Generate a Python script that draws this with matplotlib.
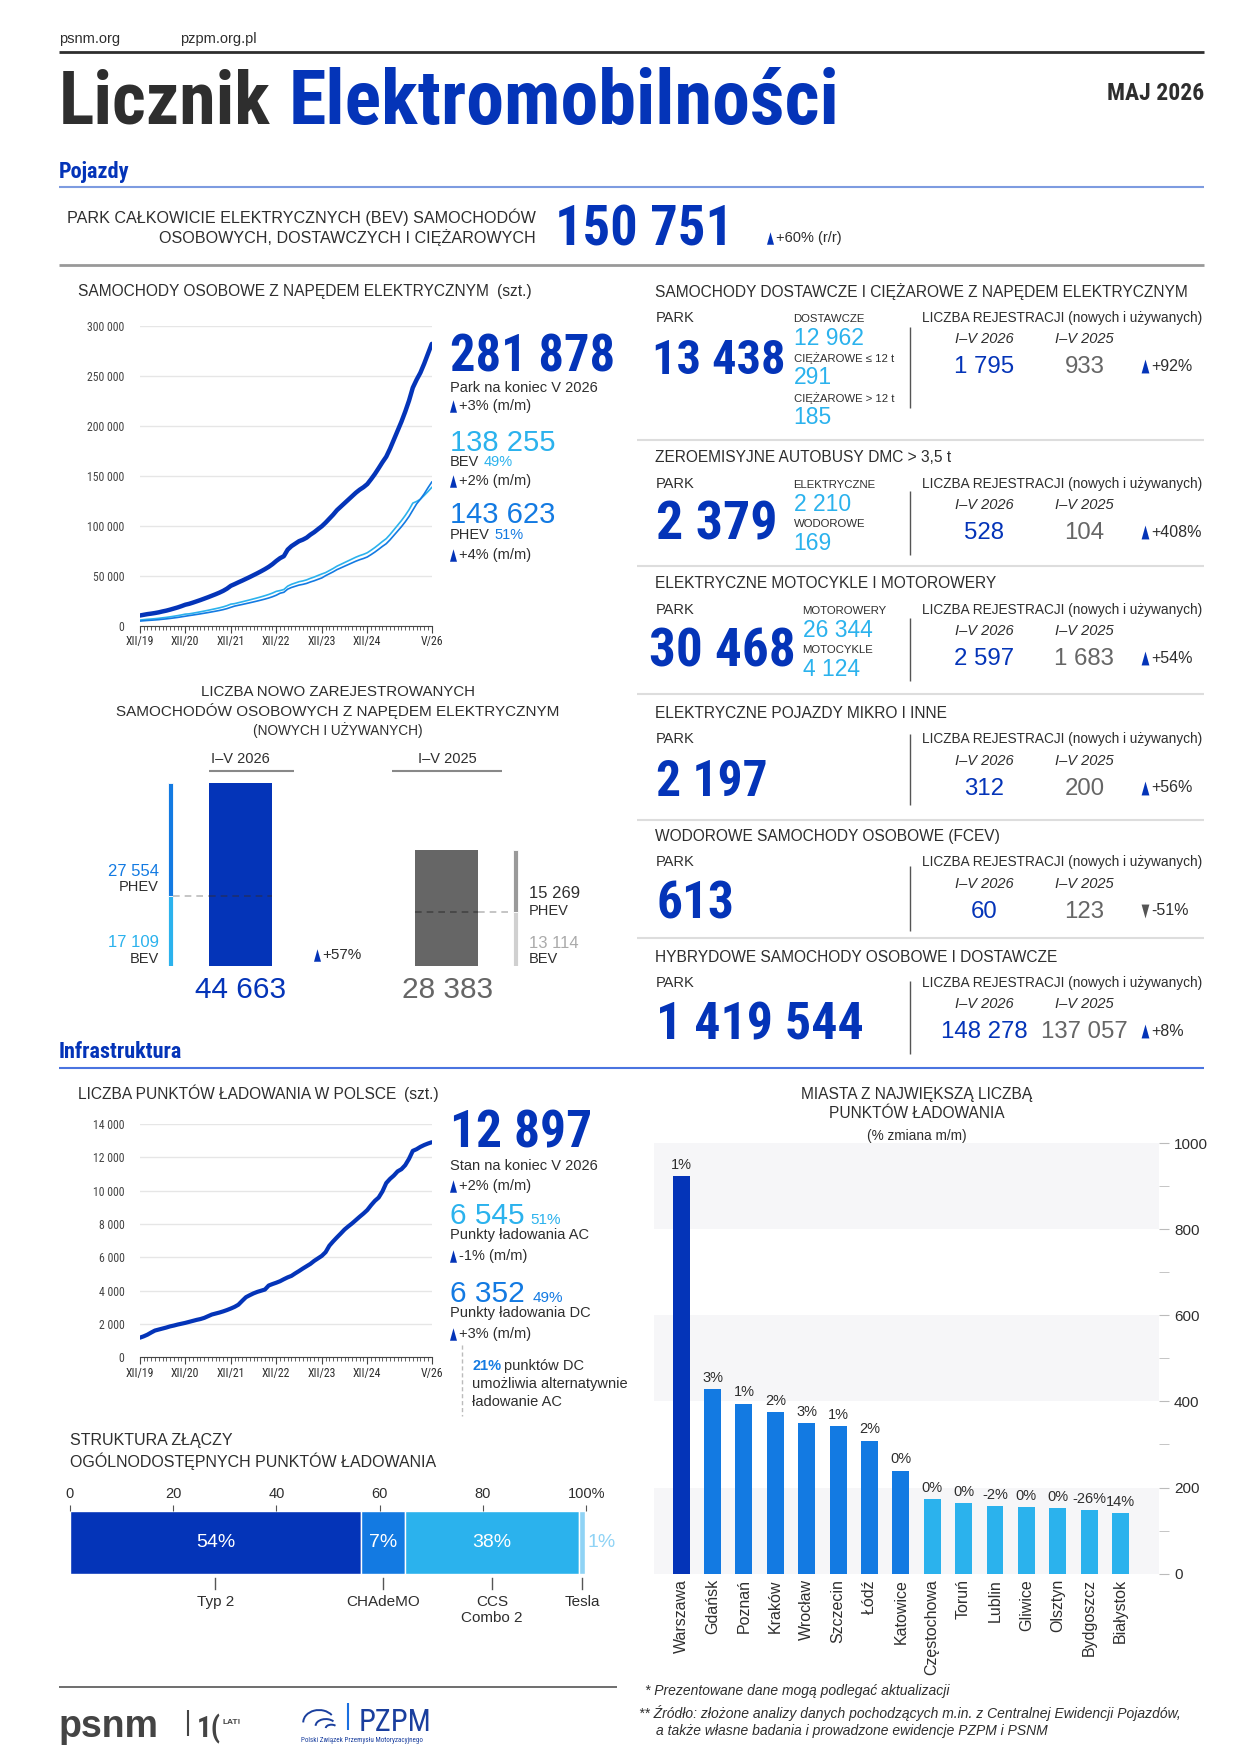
import matplotlib
matplotlib.use("Agg")
import matplotlib.pyplot as plt
import matplotlib.transforms as mtransforms
from matplotlib.patches import Arc
from matplotlib import font_manager as fm

# ---------------- DATA ----------------
xtick_pos = [0, 12, 24, 36, 48, 60, 77]
xtick_labels = ["XII/19", "XII/20", "XII/21", "XII/22", "XII/23", "XII/24", "V/26"]

ev_total = [10100, 10800, 11500, 12000, 12600, 13300, 14200, 15000, 16000, 17100, 18200, 19500, 20900,
            21800, 23000, 24300, 25600, 27000, 28400, 29900, 31400, 33000, 34800, 37000, 39800,
            41500, 43300, 45000, 46800, 48600, 50500, 52400, 54400, 56500, 58800, 61500, 64700,
            67500, 69500, 76000, 79500, 82000, 84500, 86000, 88000, 91000, 93500, 96500, 99400,
            103000, 107000, 111000, 115500, 119000, 122500, 126000, 129500, 133000, 136000, 138500, 141600,
            146500, 151700, 157500, 163500, 169000, 177000, 186000, 195000, 204000, 214000, 225000, 238000,
            246000, 253000, 262000, 272000, 281878]
ev_bev = [5560, 5940, 6330, 6600, 6930, 7320, 7810, 8250, 8800, 9400, 10000, 10700, 11500,
          11770, 12420, 13120, 13820, 14580, 15340, 16150, 16960, 17820, 18790, 19980, 21490,
          22000, 22950, 23850, 24800, 25760, 26770, 27770, 28830, 29950, 31160, 32600, 34290,
          35100, 36140, 39520, 41340, 42640, 43940, 44720, 45760, 47320, 48620, 50180, 51690,
          53050, 55110, 57170, 59480, 61290, 63090, 64890, 66690, 68500, 70040, 71330, 72920,
          75450, 78130, 81110, 84200, 87040, 91160, 95790, 100430, 105060, 110210, 115880, 122570,
          124230, 126500, 130210, 134100, 138255]
ev_phev = [4540, 4860, 5170, 5400, 5670, 5980, 6390, 6750, 7200, 7700, 8200, 8800, 9400,
           10030, 10580, 11180, 11780, 12420, 13060, 13750, 14440, 15180, 16010, 17020, 18310,
           19500, 20350, 21150, 22000, 22840, 23730, 24630, 25570, 26550, 27640, 28900, 30410,
           32400, 33360, 36480, 38160, 39360, 40560, 41280, 42240, 43680, 44880, 46320, 47710,
           49950, 51890, 53830, 56020, 57710, 59410, 61110, 62810, 64500, 65960, 67170, 68680,
           71050, 73570, 76390, 79300, 81960, 85840, 90210, 94570, 98940, 103790, 109120, 115430,
           121770, 126500, 131790, 137900, 143623]
charging = [1170, 1250, 1350, 1480, 1600, 1660, 1720, 1780, 1850, 1900, 1960, 2010, 2060,
            2120, 2180, 2240, 2290, 2360, 2460, 2560, 2620, 2680, 2750, 2830, 2920,
            3020, 3150, 3380, 3600, 3720, 3830, 3920, 3990, 4060, 4300, 4390, 4470,
            4560, 4680, 4790, 4880, 5030, 5170, 5320, 5460, 5600, 5780, 5930, 6080,
            6300, 6690, 6950, 7190, 7420, 7660, 7850, 8030, 8230, 8430, 8620, 8830,
            9120, 9380, 9580, 9950, 10450, 10700, 10900, 11150, 11280, 11520, 11900, 12380,
            12480, 12620, 12730, 12820, 12897]

cities = ["Warszawa", "Gdańsk", "Poznań", "Kraków", "Wrocław", "Szczecin", "Łódź", "Katowice",
          "Częstochowa", "Toruń", "Lublin", "Gliwice", "Olsztyn", "Bydgoszcz", "Białystok"]
city_points = [923, 428, 395, 375, 349, 343, 309, 239, 173, 163, 156, 154, 152, 147, 141]
city_change = ["1%", "3%", "1%", "2%", "3%", "1%", "2%", "0%", "0%", "0%", "-2%", "0%", "0%", "-26%", "14%"]

connector_names = ["Typ 2", "CHAdeMO", "CCS\nCombo 2", "Tesla"]
connector_shares = [56.4, 8.5, 33.7, 1.2]
connector_labels = ["54%", "7%", "38%", "1%"]

newreg_periods = ["I–V 2026", "I–V 2025"]
newreg_bev = [17109, 13114]
newreg_phev = [27554, 15269]

panel_titles = ["SAMOCHODY DOSTAWCZE I CIĘŻAROWE Z NAPĘDEM ELEKTRYCZNYM", "ZEROEMISYJNE AUTOBUSY",
                "ELEKTRYCZNE MOTOCYKLE I MOTOROWERY", "ELEKTRYCZNE POJAZDY MIKRO I INNE",
                "WODOROWE SAMOCHODY OSOBOWE (FCEV)", "HYBRYDOWE SAMOCHODY OSOBOWE I DOSTAWCZE"]
panel_title_suffix = ["", " DMC > 3,5 t", "", "", "", ""]
panel_park = [13438, 2379, 30468, 2197, 613, 1419544]
panel_reg_2026 = [1795, 528, 2597, 312, 60, 148278]
panel_reg_2025 = [933, 104, 1683, 200, 123, 137057]
panel_change = ["+92%", "+408%", "+54%", "+56%", "-51%", "+8%"]
panel_sub_labels = [["DOSTAWCZE", "CIĘŻAROWE ≤ 12 t", "CIĘŻAROWE > 12 t"], ["ELEKTRYCZNE", "WODOROWE"],
                    ["MOTOROWERY", "MOTOCYKLE"], [], [], []]
panel_sub_values = [[12962, 291, 185], [2210, 169], [26344, 4124], [], [], []]

# ---------------- STYLE ----------------
names = {f.name for f in fm.fontManager.ttflist}
def pick(*c):
    for n in c:
        if n in names:
            return n
    return "DejaVu Sans"
NARROW = pick("Liberation Sans Narrow", "Roboto Condensed", "Liberation Sans")
REG = pick("Liberation Sans", "Roboto", "DejaVu Sans")
plt.rcParams["font.family"] = [REG, "DejaVu Sans"]

DARKBLUE = "#0434B8"
MIDBLUE = "#137AE2"
CYAN = "#2BB2ED"
DARK = "#2e2e2e"
GRAY = "#666666"
TF = 11.2  # uppercase section titles

def fmt(v):
    return f"{v:,}".replace(",", " ")

fig = plt.figure(figsize=(12.4, 17.54), dpi=100, facecolor="white")
R = fig.canvas.get_renderer()
K = 1240 / 1100

def rect(x0, y0, x1, y1):
    return [x0 / 1100, 1 - y1 / 1556, (x1 - x0) / 1100, (y1 - y0) / 1556]

ov = fig.add_axes([0, 0, 1, 1])
ov.set_xlim(0, 1100)
ov.set_ylim(1556, 0)
ov.axis("off")
ov.set_zorder(10)
ov.patch.set_visible(False)

def T(x, y, s, fs=10, c=DARK, w="normal", ha="left", va="center", fam=None, st="normal", fit=None):
    t = ov.text(x, y, s, fontsize=fs, color=c, fontweight=w, ha=ha, va=va,
                family=fam if fam else [REG, "DejaVu Sans"], fontstyle=st)
    if fit:
        bb = t.get_window_extent(renderer=R)
        t.set_fontsize(fs * fit * K / bb.width)
    return t

def redge(t):
    return t.get_window_extent(renderer=R).x1 / K

def H(y, x0, x1, c, lw, ls="-"):
    ov.plot([x0, x1], [y, y], color=c, lw=lw, ls=ls, solid_capstyle="butt")

def V(x, y0, y1, c, lw, ls="-"):
    ov.plot([x, x], [y0, y1], color=c, lw=lw, ls=ls, solid_capstyle="butt")

UP = [(-0.28, -0.5), (0.28, -0.5), (0, 0.5), (-0.28, -0.5)]
DOWN = [(-0.28, 0.5), (0.28, 0.5), (0, -0.5), (-0.28, 0.5)]

def arrow(x, y, s, fs=10, up=True, tc=DARKBLUE, ms=9):
    ov.plot([x + 3], [y], marker=UP if up else DOWN, ms=ms, color=tc, mec="none", ls="none")
    T(x + 8, y, s, fs)

# ---------------- HEADER ----------------
T(52, 35, "psnm.org", 10.5)
T(160, 35, "pzpm.org.pl", 10.5)
H(46, 52, 1068, DARK, 2)
T(52, 110, "Licznik", 45, DARK, "bold", va="baseline", fam=NARROW, fit=188)
T(256, 110, "Elektromobilności", 45, DARKBLUE, "bold", va="baseline", fam=NARROW, fit=488)
T(1068, 89, "MAJ 2026", 17, DARK, "bold", ha="right", va="baseline", fam=NARROW)
T(52, 158, "Pojazdy", 16, DARKBLUE, "bold", va="baseline", fam=NARROW)
H(166, 52, 1068, "#7d9be0", 1.5)
T(475, 193, "PARK CAŁKOWICIE ELEKTRYCZNYCH (BEV) SAMOCHODÓW", 11.6, ha="right")
T(475, 211, "OSOBOWYCH, DOSTAWCZYCH I CIĘŻAROWYCH", 11.6, ha="right")
T(492, 218, fmt(150751), 40, DARKBLUE, "bold", va="baseline", fam=NARROW, fit=158)
arrow(680, 211, "+60% (r/r)", 10.5)
H(235, 52, 1068, "#999999", 2)

# ---------------- EV PASSENGER CARS LINE CHART ----------------
t = T(69, 259, "SAMOCHODY OSOBOWE Z NAPĘDEM ELEKTRYCZNYM", TF)
T(redge(t) + 7, 259, "(szt.)", TF)

def style_line_axes(ax, ymax, ystep):
    ax.set_xlim(0, len(ev_total) - 1)
    ax.set_ylim(0, ymax)
    ax.set_yticks(range(0, ymax + 1, ystep))
    ax.set_yticklabels([fmt(v) for v in range(0, ymax + 1, ystep)])
    ax.grid(axis="y", color="#e6e6e6", lw=1)
    ax.set_axisbelow(True)
    for s in ["top", "right", "left"]:
        ax.spines[s].set_visible(False)
    ax.spines["bottom"].set_color("#444444")
    ax.set_xticks(xtick_pos)
    ax.set_xticklabels(xtick_labels)
    ax.set_xticks(range(len(ev_total)), minor=True)
    ax.tick_params(axis="x", which="major", length=5, color="#444444", labelsize=8.5, pad=2, labelcolor=DARK)
    ax.tick_params(axis="x", which="minor", length=3, color="#444444", width=0.6)
    ax.tick_params(axis="y", length=0, labelsize=8.5, pad=11, labelcolor="#444444")
    for lb in ax.get_xticklabels() + ax.get_yticklabels():
        lb.set_family(NARROW)
    ax.patch.set_visible(False)

ax1 = fig.add_axes(rect(124, 289, 383, 555))
xs = list(range(len(ev_total)))
ax1.plot(xs, ev_total, color=DARKBLUE, lw=3.2, solid_capstyle="round")
ax1.plot(xs, ev_bev, color=CYAN, lw=1.2)
ax1.plot(xs, ev_phev, color=MIDBLUE, lw=1.2)
style_line_axes(ax1, 300000, 50000)

T(399, 330, fmt(ev_total[-1]), 40, DARKBLUE, "bold", va="baseline", fam=NARROW, fit=146)
T(399, 344, "Park na koniec V 2026", 10.5)
arrow(399, 360, "+3% (m/m)", 10.5)
T(399, 400, fmt(ev_bev[-1]), 21, CYAN, va="baseline")
t = T(399, 410, "BEV", 10.5)
T(redge(t) + 4, 410, "49%", 10.5, CYAN)
arrow(399, 427, "+2% (m/m)", 10.5)
T(399, 464, fmt(ev_phev[-1]), 21, MIDBLUE, va="baseline")
t = T(399, 475, "PHEV", 10.5)
T(redge(t) + 4, 475, "51%", 10.5, MIDBLUE)
arrow(399, 492, "+4% (m/m)", 10.5)

# ---------------- NEW REGISTRATIONS ----------------
T(300, 614, "LICZBA NOWO ZAREJESTROWANYCH", 10.8, ha="center")
T(300, 631, "SAMOCHODÓW OSOBOWYCH Z NAPĘDEM ELEKTRYCZNYM", 11.0, ha="center")
T(300, 648, "(NOWYCH I UŻYWANYCH)", 9.8, ha="center")
T(213, 673, newreg_periods[0], 10.5, ha="center")
H(684, 185, 261, "#888888", 1.5)
T(397, 673, newreg_periods[1], 10.5, ha="center")
H(684, 348, 445, "#888888", 1.5)

tot26 = newreg_bev[0] + newreg_phev[0]
tot25 = newreg_bev[1] + newreg_phev[1]
ax4 = fig.add_axes(rect(140, 695, 470, 857))
ax4.set_xlim(140, 470)
ax4.set_ylim(0, tot26)
ax4.axis("off")
ax4.bar(213, tot26, width=56, color=DARKBLUE)
ax4.bar(151, newreg_bev[0], width=4.5, color=CYAN, edgecolor="white", lw=0.6)
ax4.bar(151, newreg_phev[0], bottom=newreg_bev[0], width=4.5, color=MIDBLUE, edgecolor="white", lw=0.6)
ax4.bar(396, tot25, width=56, color=GRAY)
ax4.bar(457.5, newreg_bev[1], width=4.5, color="#d0d0d0", edgecolor="white", lw=0.6)
ax4.bar(457.5, newreg_phev[1], bottom=newreg_bev[1], width=4.5, color="#9a9a9a", edgecolor="white", lw=0.6)
ax4.plot([153.5, 185], [newreg_bev[0]] * 2, ls=(0, (4, 3)), color="#bbbbbb", lw=1.2)
ax4.plot([185, 241], [newreg_bev[0]] * 2, ls=(0, (4, 3)), color="#1d2f70", lw=1.2)
ax4.plot([368, 424], [newreg_bev[1]] * 2, ls=(0, (4, 3)), color="#444444", lw=1.2)
ax4.plot([424, 455], [newreg_bev[1]] * 2, ls=(0, (4, 3)), color="#bbbbbb", lw=1.2)

T(141, 773, fmt(newreg_phev[0]), 12, MIDBLUE, ha="right")
T(141, 787, "PHEV", 10.5, ha="right")
T(141, 836, fmt(newreg_bev[0]), 12, CYAN, ha="right")
T(141, 851, "BEV", 10.5, ha="right")
T(213, 885, fmt(tot26), 21.5, DARKBLUE, ha="center", va="baseline")
arrow(278, 847, "+57%", 11)
T(469, 793, fmt(newreg_phev[1]), 12, DARK)
T(469, 808, "PHEV", 10.5)
T(469, 837, fmt(newreg_bev[1]), 12, "#aaaaaa")
T(469, 851, "BEV", 10.5)
T(397, 885, fmt(tot25), 21.5, GRAY, ha="center", va="baseline")

# ---------------- RIGHT PANELS ----------------
panel_y = [259, 406, 518, 633, 742, 849]
sep_y = [390, 502, 616, 727, 832]
vline_rng = [(290, 362), (436, 492), (548, 604), (651, 714), (768, 826), (870, 935)]
park_x = [578, 582, 576, 582, 582, 582]
park_w = [118, 108, 130, 99, 69, 184]
sub_x = [704, 704, 712, 704, 704, 704]
for i in range(6):
    y0 = panel_y[i]
    t = T(581, y0, panel_titles[i], TF)
    if panel_title_suffix[i]:
        T(redge(t), y0, panel_title_suffix[i], TF)
    T(582, y0 + 23, "PARK", 10.5)
    T(park_x[i], y0 + 73, fmt(panel_park[i]), 40, DARKBLUE, "bold", va="baseline", fam=NARROW, fit=park_w[i])
    for k, (lbl, val) in enumerate(zip(panel_sub_labels[i], panel_sub_values[i])):
        T(sub_x[i], y0 + 24 + 35 * k, lbl, 8.2)
        T(sub_x[i], y0 + 47 + 35 * k, fmt(val), 16.5, CYAN, va="baseline")
    V(807, vline_rng[i][0], vline_rng[i][1], "#555555", 1)
    T(818, y0 + 23, "LICZBA REJESTRACJI (nowych i używanych)", 9.8)
    T(873, y0 + 42, "I–V 2026", 10.5, ha="center", st="italic")
    T(962, y0 + 42, "I–V 2025", 10.5, ha="center", st="italic")
    T(873, y0 + 72, fmt(panel_reg_2026[i]), 17.3, DARKBLUE, ha="center", va="baseline")
    T(962, y0 + 72, fmt(panel_reg_2025[i]), 17.3, GRAY, ha="center", va="baseline")
    up = not panel_change[i].startswith("-")
    arrow(1013, y0 + 66, panel_change[i], 11.5, up=up, tc=DARKBLUE if up else "#555555", ms=10)
for y in sep_y:
    H(y, 565, 1068, "#dddddd", 1.5)

# ---------------- INFRASTRUCTURE ----------------
T(52, 939, "Infrastruktura", 16, DARKBLUE, "bold", va="baseline", fam=NARROW)
H(947, 52, 1068, "#4a74e0", 1.5)

t = T(69, 971, "LICZBA PUNKTÓW ŁADOWANIA W POLSCE", TF)
T(redge(t) + 7, 971, "(szt.)", TF)
ax2 = fig.add_axes(rect(124, 997, 383, 1204))
ax2.plot(xs, charging, color=DARKBLUE, lw=3.0, solid_capstyle="round")
style_line_axes(ax2, 14000, 2000)

T(399, 1018, fmt(charging[-1]), 40, DARKBLUE, "bold", va="baseline", fam=NARROW, fit=126)
T(399, 1034, "Stan na koniec V 2026", 10.5)
arrow(399, 1052, "+2% (m/m)", 10.5)
t = T(399, 1086, "6 545", 21.5, CYAN, va="baseline")
T(redge(t) + 5, 1086, "51%", 11, CYAN, va="baseline")
T(399, 1096, "Punkty ładowania AC", 10.5)
arrow(399, 1114, "-1% (m/m)", 10.5)
t = T(399, 1155, "6 352", 21.5, MIDBLUE, va="baseline")
T(redge(t) + 7, 1155, "49%", 11, MIDBLUE, va="baseline")
T(399, 1165, "Punkty ładowania DC", 10.5)
arrow(399, 1183, "+3% (m/m)", 10.5)
V(410, 1193, 1256, "#bbbbbb", 1, ls=(0, (3, 2)))
t = T(419, 1212, "21%", 10.5, MIDBLUE, "bold")
T(redge(t) + 2, 1212, "punktów DC", 10.5)
T(419, 1228, "umożliwia alternatywnie", 10.5)
T(419, 1244, "ładowanie AC", 10.5)

# ---------------- CONNECTORS ----------------
T(62, 1278, "STRUKTURA ZŁĄCZY", 11.5)
T(62, 1296, "OGÓLNODOSTĘPNYCH PUNKTÓW ŁADOWANIA", 11.5)
ax5 = fig.add_axes(rect(62, 1340, 520, 1396))
ax5.set_xlim(0, 100)
ax5.set_ylim(-0.5, 0.5)
seg_colors = [DARKBLUE, MIDBLUE, CYAN, "#8fd3f5"]
cum = 0
blend = mtransforms.blended_transform_factory(ax5.transData, ax5.transAxes)
for i, (nm, sh, lb) in enumerate(zip(connector_names, connector_shares, connector_labels)):
    ax5.barh(0, sh, left=cum, height=1.0, color=seg_colors[i], edgecolor="white", lw=1)
    mid = cum + sh / 2
    if i < 3:
        ax5.text(mid, 0, lb, color="white", fontsize=14, ha="center", va="center")
    else:
        ax5.text(cum + sh + 3.2, 0, lb, color="#8fd3f5", fontsize=14, ha="center", va="center")
    ax5.plot([mid, mid], [-0.07, -0.25], color="#555555", lw=1, transform=blend, clip_on=False)
    ax5.text(mid, -0.34, nm, fontsize=11, color=DARK, ha="center", va="top", transform=blend,
             linespacing=1.2)
    cum += sh
ax5.xaxis.tick_top()
ax5.set_xticks([0, 20, 40, 60, 80, 100])
ax5.set_xticklabels(["0", "20", "40", "60", "80", "100%"])
ax5.set_yticks([])
ax5.tick_params(axis="x", length=4, color="#555555", pad=3, labelsize=10.5, labelcolor=DARK)
for s in ax5.spines.values():
    s.set_visible(False)

# ---------------- CITIES ----------------
T(813, 971, "MIASTA Z NAJWIĘKSZĄ LICZBĄ", TF, ha="center")
T(813, 988, "PUNKTÓW ŁADOWANIA", TF, ha="center")
T(813, 1008, "(% zmiana m/m)", 9.8, ha="center")
ax3 = fig.add_axes(rect(580, 1014, 1028, 1396))
for lo, hi in [(0, 200), (400, 600), (800, 1000)]:
    ax3.axhspan(lo, hi, color="#f6f6f8", lw=0, zorder=0)
ccol = [DARKBLUE] + [MIDBLUE] * 7 + [CYAN] * 7
ax3.bar(range(len(cities)), city_points, width=0.54, color=ccol, zorder=3)
for i, (v, lb) in enumerate(zip(city_points, city_change)):
    ax3.text(i, v + 10, lb, ha="center", va="bottom", fontsize=10.5, color=DARK)
ax3.set_xlim(-0.87, 15.22)
ax3.set_ylim(0, 1000)
ax3.yaxis.tick_right()
ax3.set_yticks(range(0, 1001, 200))
ax3.set_yticks(range(100, 1000, 200), minor=True)
ax3.tick_params(axis="y", which="both", length=7, color="#bbbbbb", labelsize=11, pad=4, labelcolor=DARK)
ax3.set_xticks(range(len(cities)))
ax3.set_xticklabels(cities, rotation=90, fontsize=11.5, color=DARK)
ax3.tick_params(axis="x", length=0, pad=4)
for s in ax3.spines.values():
    s.set_visible(False)

# ---------------- FOOTER ----------------
H(1497, 52, 547, "#555555", 1.2)
T(52, 1541, "psnm", 27, "#444444", "bold", va="baseline")
V(167, 1517, 1540, "#444444", 1.5)
T(175, 1541, "1(", 21, "#444444", "bold", va="baseline", fam=NARROW)
T(197, 1528, "LAT!", 6, "#444444", "bold")
for (cx, cy, w, h) in [(283, 1528, 28, 22), (289, 1531, 18, 12), (294, 1533, 10, 6)]:
    ov.add_patch(Arc((cx, cy), w, h, theta1=180, theta2=330, color="#1a3f9e", lw=1.4))
V(309, 1511, 1535, "#1a6fe0", 1.5)
T(318, 1536, "PZPM", 22, "#1a3f9e", va="baseline", fam=NARROW)
T(267, 1544, "Polski Związek Przemysłu Motoryzacyjnego", 5, "#1a3f9e", fam=NARROW)
T(572, 1500, "* Prezentowane dane mogą podlegać aktualizacji", 10, st="italic")
T(567, 1520, "** Źródło: złożone analizy danych pochodzących m.in. z Centralnej Ewidencji Pojazdów,", 10,
  st="italic")
T(582, 1536, "a także własne badania i prowadzone ewidencje PZPM i PSNM", 10, st="italic")

fig.savefig("out.png", dpi=100, facecolor="white")
